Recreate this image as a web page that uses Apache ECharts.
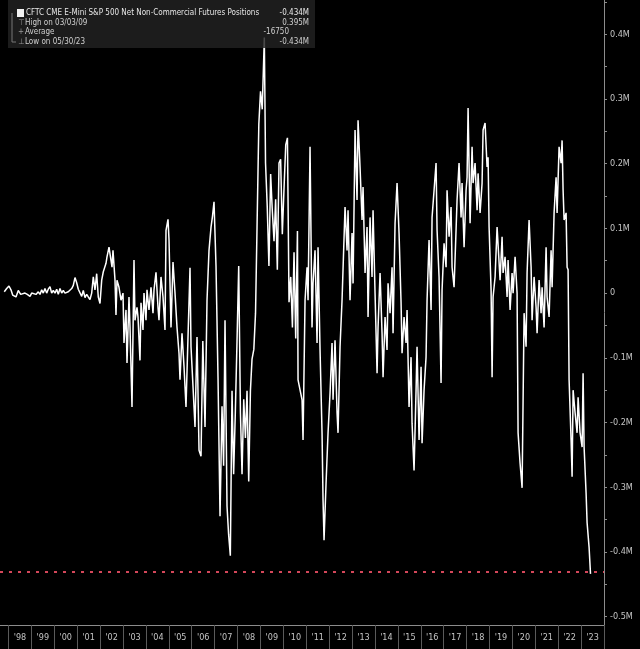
<!DOCTYPE html>
<html>
<head>
<meta charset="utf-8">
<script src="https://cdn.jsdelivr.net/npm/echarts@6/dist/echarts.min.js"></script>
<style>
html,body{margin:0;padding:0;background:#000;}
#chart{width:640px;height:649px;}
</style>
</head>
<body>
<div id="chart"></div>
<script>
// Decimal-year dates and net positions (millions of contracts), split by era
const dates1998 = [1997.817,1997.921,1998.022,1998.109,1998.183,1998.240,1998.328,1998.428,1998.533,1998.620,1998.721,1998.821,1998.939,1999.013,1999.083,1999.201,1999.301,1999.376,1999.450,1999.520,1999.594,1999.668,1999.738,1999.812,1999.886,1999.956,2000.031,2000.105,2000.175,2000.249,2000.323,2000.393,2000.467,2000.541,2000.611,2000.686,2000.760,2000.830,2000.904,2000.978,2001.048,2001.122,2001.197,2001.266,2001.341,2001.415,2001.485,2001.559,2001.633,2001.703,2001.777,2001.851,2001.921,2001.996,2002.070,2002.140];
const values1998 = [0.002,0.007,0.011,0.005,-0.003,0.000,-0.006,0.004,-0.002,-0.003,0.000,-0.002,-0.005,0.000,0.000,-0.002,0.002,-0.002,0.005,0.000,0.007,0.000,0.006,0.010,0.000,0.004,0.000,0.006,-0.002,0.007,0.000,0.004,0.000,-0.002,0.002,0.000,0.007,0.012,0.024,0.016,0.006,0.005,-0.005,0.004,-0.007,-0.002,-0.006,-0.010,0.000,0.025,0.005,0.030,-0.006,-0.016,0.020,0.033];

const dates2002 = [2002.258,2002.301,2002.389,2002.476,2002.520,2002.563,2002.651,2002.694,2002.738,2002.825,2002.913,2003.000,2003.044,2003.131,2003.175,2003.262,2003.306,2003.393,2003.480,2003.524,2003.611,2003.655,2003.742,2003.786,2003.873,2003.917,2004.004,2004.048,2004.135,2004.223,2004.310,2004.354,2004.441,2004.528,2004.572,2004.659,2004.747,2004.834,2004.878,2004.965,2005.009,2005.096,2005.183,2005.271,2005.358,2005.445,2005.489,2005.576,2005.664,2005.751,2005.838,2005.926,2005.969,2006.057,2006.144,2006.231,2006.319];
const values2002 = [0.046,0.056,0.071,0.074,0.040,0.066,0.020,-0.034,0.020,0.009,-0.011,0.000,-0.077,-0.026,-0.108,-0.006,-0.053,-0.176,0.051,-0.042,-0.022,-0.037,-0.104,-0.015,-0.057,0.000,-0.042,0.005,-0.026,0.009,-0.031,0.005,0.032,-0.022,-0.042,0.025,-0.006,-0.057,0.097,0.114,0.082,-0.053,0.048,0.000,-0.053,-0.093,-0.134,-0.062,-0.114,-0.176,-0.068,0.039,-0.083,-0.145,-0.207,-0.068,-0.243];

const dates2006 = [2006.406,2006.485,2006.581,2006.668,2006.755,2006.843,2006.908,2006.974,2007.061,2007.148,2007.236,2007.323,2007.393,2007.454,2007.541,2007.611,2007.686,2007.760,2007.830,2007.904,2007.978,2008.052,2008.127,2008.197,2008.271,2008.345,2008.415,2008.489,2008.563,2008.633,2008.712,2008.786,2008.852,2008.930,2009.004,2009.079,2009.170,2009.223,2009.297,2009.371,2009.446,2009.515,2009.594,2009.664,2009.738,2009.812,2009.882,2009.956,2010.030,2010.105,2010.179,2010.249,2010.323,2010.397,2010.467,2010.541,2010.616];
const values2006 = [-0.252,-0.074,-0.207,-0.011,0.066,0.102,0.119,0.141,0.042,-0.130,-0.345,-0.175,-0.267,-0.042,-0.329,-0.373,-0.406,-0.151,-0.280,-0.185,-0.074,0.042,-0.185,-0.280,-0.164,-0.224,-0.151,-0.291,-0.151,-0.102,-0.087,-0.031,0.102,0.261,0.312,0.284,0.395,0.201,0.134,0.042,0.184,0.130,0.080,0.145,0.036,0.201,0.207,0.091,0.162,0.229,0.240,-0.014,0.025,-0.053,0.063,-0.070,0.096];

const dates2010 = [2010.642,2010.817,2010.860,2010.948,2011.035,2011.079,2011.166,2011.253,2011.297,2011.384,2011.472,2011.515,2011.603,2011.690,2011.734,2011.777,2011.865,2011.952,2012.039,2012.127,2012.170,2012.257,2012.345,2012.388,2012.476,2012.563,2012.694,2012.782,2012.825,2012.912,2013.000,2013.044,2013.131,2013.218,2013.262,2013.349,2013.437,2013.480,2013.568,2013.655,2013.699,2013.786,2013.873,2013.917,2014.004,2014.092,2014.135,2014.223,2014.310,2014.354,2014.441,2014.528,2014.572,2014.659,2014.747,2014.790,2014.878,2014.965];
const values2010 = [-0.134,-0.165,-0.227,-0.011,0.040,-0.011,0.226,-0.053,0.015,0.066,-0.077,0.071,-0.088,-0.216,-0.320,-0.382,-0.294,-0.216,-0.155,-0.077,-0.165,-0.073,-0.185,-0.216,-0.083,-0.011,0.133,0.066,0.128,-0.011,0.093,0.015,0.252,0.144,0.267,0.195,0.113,0.164,0.031,0.102,-0.037,0.117,0.025,0.128,0.000,-0.124,-0.053,0.031,-0.062,-0.130,-0.037,-0.088,0.015,-0.031,0.040,-0.062,0.108,0.170];

const dates2015 = [2015.052,2015.140,2015.183,2015.271,2015.358,2015.402,2015.489,2015.576,2015.620,2015.707,2015.795,2015.838,2015.926,2016.013,2016.057,2016.144,2016.231,2016.275,2016.362,2016.450,2016.493,2016.581,2016.668,2016.712,2016.799,2016.886,2016.930,2017.017,2017.105,2017.148,2017.236,2017.323,2017.367,2017.454,2017.541,2017.585,2017.672,2017.760,2017.803,2017.891,2017.978,2018.022,2018.066,2018.153,2018.240,2018.284,2018.371,2018.459,2018.502,2018.590,2018.677,2018.721,2018.808,2018.895,2018.939,2018.983,2019.070,2019.114,2019.157,2019.245,2019.332];
const values2015 = [0.093,-0.015,-0.093,-0.037,-0.077,-0.026,-0.176,-0.099,-0.201,-0.274,-0.150,-0.083,-0.227,-0.114,-0.232,-0.150,-0.099,-0.011,0.082,-0.026,0.117,0.159,0.201,0.097,0.025,-0.139,0.005,0.077,0.040,0.159,0.087,0.133,0.040,0.009,0.097,0.144,0.201,0.117,0.170,0.071,0.159,0.179,0.286,0.108,0.226,0.170,0.201,0.128,0.185,0.124,0.170,0.252,0.263,0.195,0.210,0.102,0.005,-0.130,-0.006,0.025,0.102];

const dates2019 = [2019.463,2019.550,2019.594,2019.681,2019.769,2019.812,2019.900,2019.987,2020.031,2020.118,2020.205,2020.249,2020.336,2020.424,2020.511,2020.598,2020.642,2020.729,2020.817,2020.860,2020.948,2021.035,2021.079,2021.166,2021.253,2021.297,2021.384,2021.472,2021.515,2021.603,2021.690,2021.734,2021.821,2021.908,2021.952,2022.039,2022.127,2022.170,2022.214,2022.258,2022.345,2022.389,2022.432,2022.476,2022.563,2022.607,2022.651,2022.738,2022.825,2022.869,2022.956,2023.044,2023.087,2023.131,2023.218,2023.262,2023.349,2023.411];
const values2019 = [0.020,0.087,0.031,0.056,-0.006,0.051,-0.026,0.031,0.000,0.056,0.000,-0.216,-0.263,-0.301,-0.031,-0.083,0.031,0.113,0.040,-0.042,0.025,-0.022,-0.062,0.020,-0.031,0.009,-0.053,0.071,-0.006,-0.037,0.066,0.009,0.124,0.179,0.124,0.226,0.201,0.236,0.159,0.113,0.124,0.040,0.036,-0.134,-0.227,-0.284,-0.150,-0.185,-0.216,-0.161,-0.216,-0.238,-0.124,-0.238,-0.309,-0.355,-0.393,-0.434];

// Axis ticks / labels
const yearBoundaries = [1998,1999,2000,2001,2002,2003,2004,2005,2006,2007,2008,2009,2010,2011,2012,2013,2014,2015,2016,2017,2018,2019,2020,2021,2022,2023,2024];
const yearLabelPositions = [1998.5,1999.5,2000.5,2001.5,2002.5,2003.5,2004.5,2005.5,2006.5,2007.5,2008.5,2009.5,2010.5,2011.5,2012.5,2013.5,2014.5,2015.5,2016.5,2017.5,2018.5,2019.5,2020.5,2021.5,2022.5,2023.5];
const yLabelValues = [-0.5,-0.4,-0.3,-0.2,-0.1,0,0.1,0.2,0.3,0.4];
const yTickValues = [-0.5,-0.45,-0.4,-0.35,-0.3,-0.25,-0.2,-0.15,-0.1,-0.05,0,0.05,0.1,0.15,0.2,0.25,0.3,0.35,0.4,0.45];

// Legend texts
const seriesName = 'CFTC CME E-Mini S&P 500 Net Non-Commercial Futures Positions';
const lastValueText = '-0.434M';
const highLabel = 'High on 03/03/09';
const highValueText = '0.395M';
const avgLabel = 'Average';
const avgValueText = '-16750';
const lowLabel = 'Low on 05/30/23';
const lowValueText = '-0.434M';
const lowValue = -0.434;

const allDates = [].concat(dates1998, dates2002, dates2006, dates2010, dates2015, dates2019);
const allValues = [].concat(values1998, values2002, values2006, values2010, values2015, values2019);
const seriesData = allDates.map((d, i) => [d, allValues[i]]);

const FONT = '"DejaVu Sans Condensed","Liberation Sans Narrow",sans-serif';
const LFONT = '8px ' + FONT;
const axisColor = '#8c8c8c';
const labelColor = '#c4c4c4';

const chart = echarts.init(document.getElementById('chart'), null, {renderer: 'canvas'});
chart.setOption({
  backgroundColor: '#000',
  animation: false,
  grid: {left: 0, right: 36, top: 0, bottom: 24, containLabel: false},
  xAxis: {
    type: 'value', min: 1997.63, max: 2024.0,
    axisLine: {show: true, onZero: false, lineStyle: {color: axisColor, width: 1}},
    axisTick: {show: true, customValues: yearBoundaries, length: 24, lineStyle: {color: '#5a5a5a', width: 1}},
    axisLabel: {
      customValues: yearLabelPositions, color: labelColor, fontSize: 9, fontFamily: FONT, margin: 8,
      formatter: v => "'" + String(Math.floor(v)).slice(2)
    },
    splitLine: {show: false}
  },
  yAxis: {
    type: 'value', position: 'right', min: -0.513, max: 0.453,
    axisLine: {show: true, onZero: false, lineStyle: {color: axisColor, width: 1}},
    axisTick: {show: true, customValues: yTickValues, length: 3, lineStyle: {color: axisColor}},
    axisLabel: {
      customValues: yLabelValues, color: labelColor, fontSize: 9, fontFamily: FONT, margin: 6,
      formatter: v => Math.abs(v) < 1e-9 ? '0' : (v.toFixed(1) + 'M')
    },
    splitLine: {show: false}
  },
  series: [{
    type: 'line', data: seriesData, showSymbol: false, symbol: 'none',
    lineStyle: {color: '#ffffff', width: 1.5},
    markLine: {
      silent: true, symbol: 'none', label: {show: false},
      lineStyle: {color: '#d4475a', type: [3, 6], width: 2},
      data: [{yAxis: lowValue}]
    },
    z: 2
  }],
  graphic: [
    {type: 'rect', z: 100, shape: {x: 8, y: 0, width: 307, height: 48}, style: {fill: 'rgba(34,34,34,0.82)'}},
    {type: 'rect', z: 101, shape: {x: 17, y: 9, width: 7, height: 8}, style: {fill: '#f2f2f2'}},
    {type: 'line', z: 101, shape: {x1: 12, y1: 13, x2: 12, y2: 42}, style: {stroke: '#777', lineWidth: 1}},
    {type: 'line', z: 101, shape: {x1: 12, y1: 42, x2: 16, y2: 42}, style: {stroke: '#777', lineWidth: 1}},
    {type: 'text', z: 101, style: {text: '⊤', x: 18, y: 23, fill: '#999', font: LFONT, verticalAlign: 'middle'}},
    {type: 'text', z: 101, style: {text: '+', x: 18, y: 32, fill: '#999', font: LFONT, verticalAlign: 'middle'}},
    {type: 'text', z: 101, style: {text: '⊥', x: 18, y: 42, fill: '#999', font: LFONT, verticalAlign: 'middle'}},
    {type: 'text', z: 101, style: {text: seriesName, x: 26, y: 13, fill: '#e6e6e6', font: LFONT, verticalAlign: 'middle'}},
    {type: 'text', z: 101, style: {text: lastValueText, x: 309, y: 13, fill: '#e6e6e6', font: LFONT, align: 'right', verticalAlign: 'middle'}},
    {type: 'text', z: 101, style: {text: highLabel, x: 25, y: 23, fill: '#cfcfcf', font: LFONT, verticalAlign: 'middle'}},
    {type: 'text', z: 101, style: {text: highValueText, x: 309, y: 23, fill: '#cfcfcf', font: LFONT, align: 'right', verticalAlign: 'middle'}},
    {type: 'text', z: 101, style: {text: avgLabel, x: 25, y: 32, fill: '#cfcfcf', font: LFONT, verticalAlign: 'middle'}},
    {type: 'text', z: 101, style: {text: avgValueText, x: 289, y: 32, fill: '#cfcfcf', font: LFONT, align: 'right', verticalAlign: 'middle'}},
    {type: 'text', z: 101, style: {text: lowLabel, x: 25, y: 42, fill: '#cfcfcf', font: LFONT, verticalAlign: 'middle'}},
    {type: 'text', z: 101, style: {text: lowValueText, x: 309, y: 42, fill: '#cfcfcf', font: LFONT, align: 'right', verticalAlign: 'middle'}}
  ]
});
</script>
</body>
</html>
